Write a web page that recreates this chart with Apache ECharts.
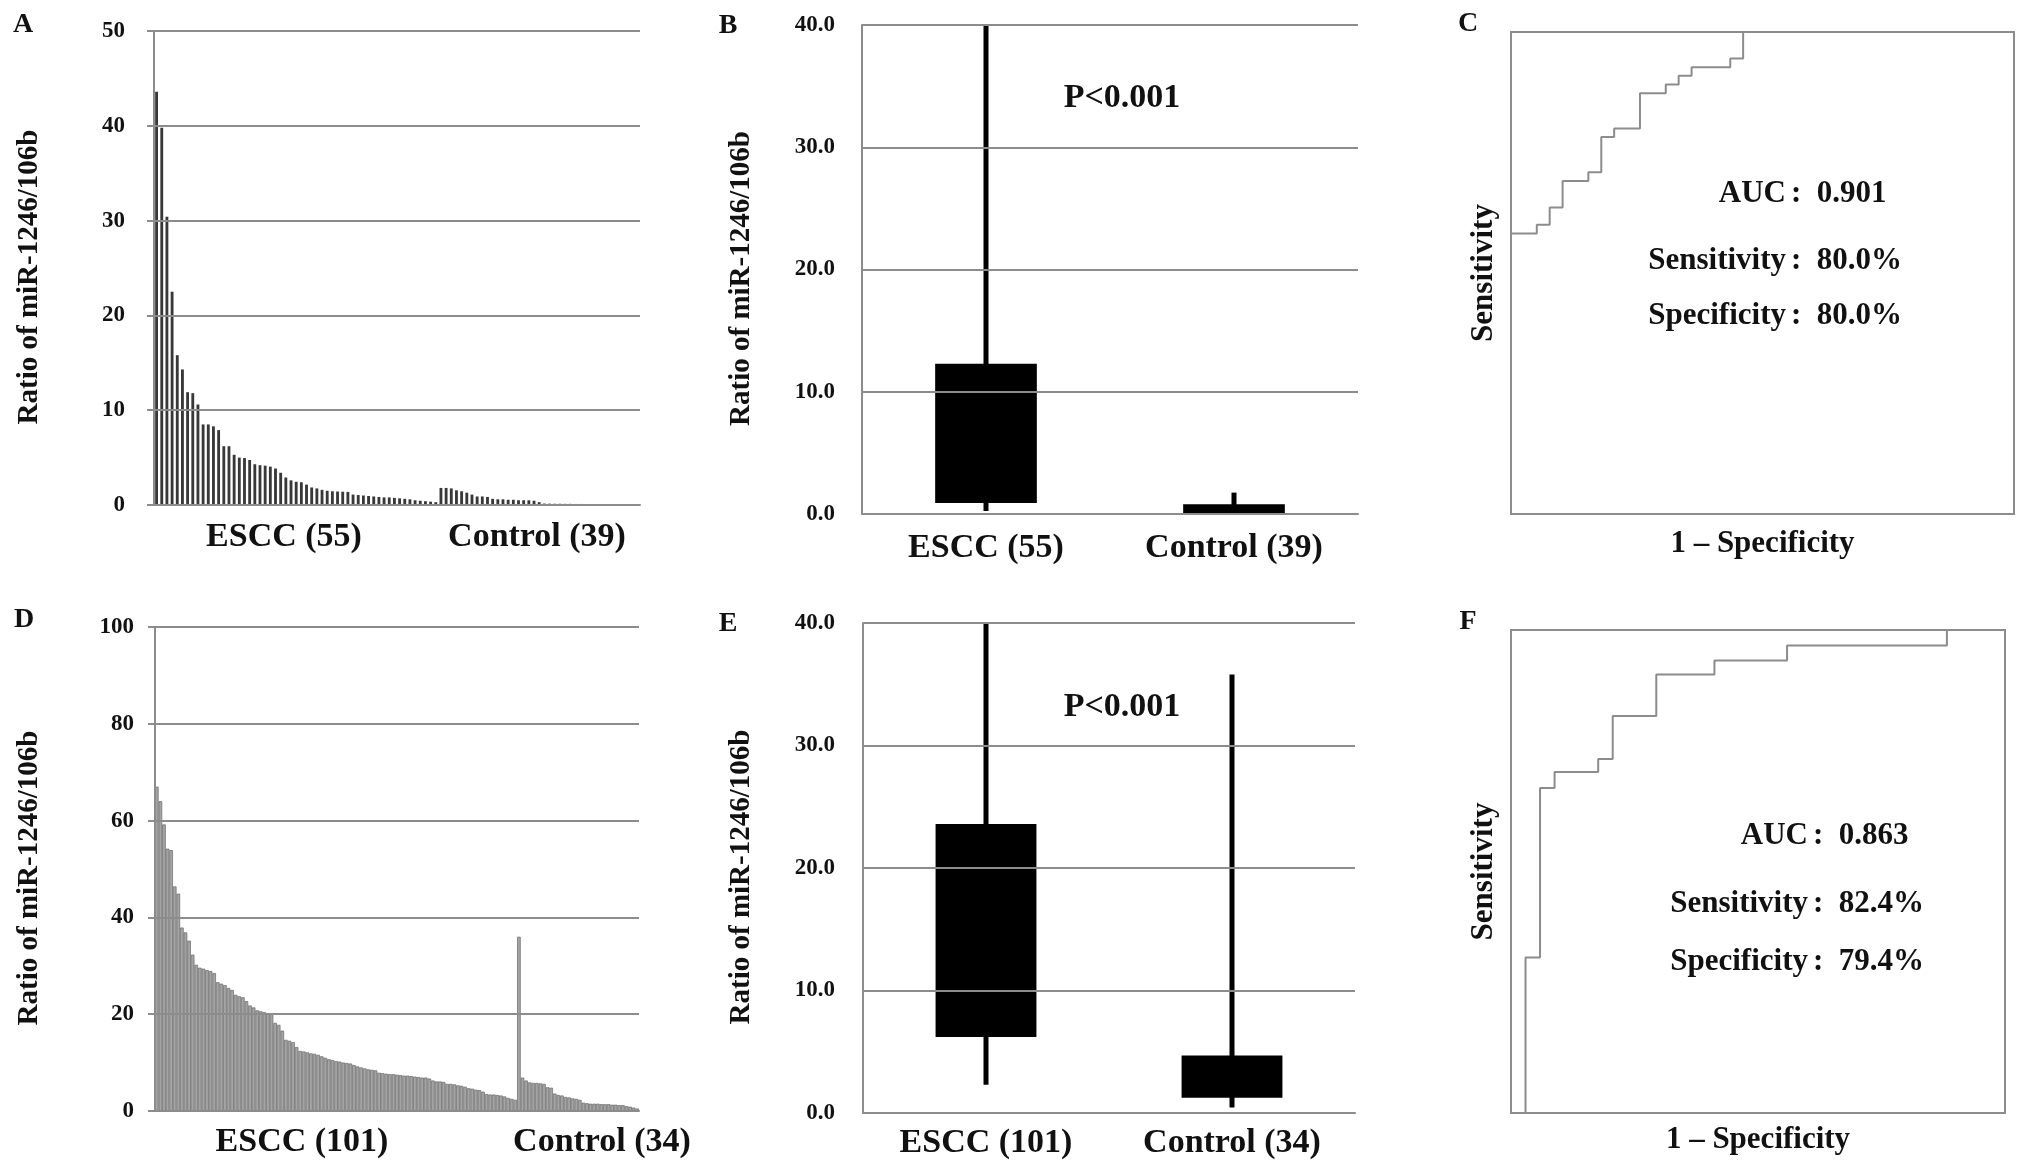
<!DOCTYPE html>
<html>
<head>
<meta charset="utf-8">
<script src="https://cdn.jsdelivr.net/npm/echarts@6.0.0/dist/echarts.min.js"></script>
<style>
  html, body { margin: 0; padding: 0; background: #fff; }
  #main { width: 2031px; height: 1172px; }
</style>
</head>
<body>
<div id="main"></div>
<script>
// ---- data ----
// panel A: individual ratios, cohort 1
const esccA = [43.6, 39.8, 30.4, 22.5, 15.8, 14.3, 11.9, 11.8, 10.6, 8.5,
  8.5, 8.3, 7.9, 6.2, 6.2, 5.3, 5.0, 4.95, 4.75, 4.3,
  4.2, 4.15, 4.05, 3.85, 3.4, 2.9, 2.6, 2.45, 2.4, 2.15,
  1.85, 1.75, 1.6, 1.5, 1.45, 1.42, 1.4, 1.38, 1.1, 1.05,
  1.0, 0.95, 0.9, 0.85, 0.8, 0.8, 0.75, 0.7, 0.65, 0.6,
  0.5, 0.45, 0.4, 0.35, 0.3];
const controlA = [1.8, 1.8, 1.75, 1.55, 1.45, 1.3, 1.1, 0.9, 0.9, 0.85,
  0.65, 0.6, 0.6, 0.55, 0.55, 0.5, 0.5, 0.5, 0.45, 0.3,
  0.15, 0.14, 0.13, 0.13, 0.12, 0.12, 0.11, 0.11, 0.1, 0.1,
  0.09, 0.09, 0.08, 0.08, 0.07, 0.07, 0.06, 0.06, 0.05];
// panel D: individual ratios, cohort 2
const esccD = [67.0, 64.0, 59.2, 54.2, 53.9, 46.4, 44.9, 37.9, 36.9, 35.2,
  32.3, 30.2, 29.6, 29.4, 29.1, 28.9, 28.5, 26.6, 26.3, 26.0,
  25.4, 25.0, 24.0, 23.7, 23.5, 22.7, 21.8, 21.4, 20.8, 20.6,
  20.4, 20.2, 20.1, 18.2, 17.8, 16.6, 14.7, 14.5, 14.2, 13.2,
  12.4, 12.3, 12.1, 11.9, 11.8, 11.6, 11.3, 11.0, 10.7, 10.5,
  10.3, 10.2, 10.0, 9.9, 9.8, 9.5, 9.2, 9.0, 8.8, 8.6,
  8.5, 8.4, 7.9, 7.8, 7.7, 7.6, 7.6, 7.5, 7.4, 7.3,
  7.3, 7.2, 7.1, 7.0, 6.9, 6.9, 6.7, 6.3, 6.1, 6.1,
  6.0, 5.6, 5.6, 5.5, 5.3, 5.2, 5.0, 4.7, 4.6, 4.4,
  4.3, 4.0, 3.5, 3.4, 3.4, 3.3, 3.2, 3.0, 2.7, 2.5,
  2.3];
const controlD = [36.0, 6.9, 6.3, 5.9, 5.8, 5.8, 5.7, 5.6, 4.9, 4.8,
  3.6, 3.3, 3.2, 2.9, 2.8, 2.6, 2.5, 2.3, 1.7, 1.6,
  1.5, 1.5, 1.5, 1.4, 1.4, 1.4, 1.3, 1.3, 1.2, 1.2,
  1.0, 0.9, 0.7, 0.5];

// panels B / E: [min, lower box, upper box, max]
const boxCatsB = ['ESCC (55)', 'Control (39)'];
const boxB = [[0.24, 0.9, 12.3, 43.6], [0.0, 0.02, 0.8, 1.75]];
const boxCatsE = ['ESCC (101)', 'Control (34)'];
const boxE = [[2.3, 6.2, 23.6, 67.0], [0.45, 1.24, 4.7, 35.8]];

// panels C / F: ROC step corners (1 - specificity, sensitivity)
const rocCFpr = [0, 0, 0.0513, 0.0769, 0.1026, 0.1538, 0.1795, 0.2051, 0.2564, 0.3077, 0.3333, 0.359, 0.4359, 0.4615, 1];
const rocCTpr = [0, 0.582, 0.6, 0.636, 0.691, 0.709, 0.782, 0.8, 0.873, 0.891, 0.909, 0.927, 0.945, 1, 1];
const rocFFpr = [0, 0.0294, 0.0588, 0.0882, 0.1765, 0.2059, 0.2941, 0.4118, 0.5588, 0.8824, 1];
const rocFTpr = [0, 0.322, 0.673, 0.706, 0.733, 0.822, 0.908, 0.937, 0.968, 1, 1];
const statsC = [['AUC', '0.901'], ['Sensitivity', '80.0%'], ['Specificity', '80.0%']];
const statsF = [['AUC', '0.863'], ['Sensitivity', '82.4%'], ['Specificity', '79.4%']];

// ---- chart ----
const FONT = 'Liberation Serif';
const GRAY = '#8c8c8c';
const yName = 'Ratio of miR-1246/106b';

const catsA = esccA.map((v, i) => 'ESCC ' + (i + 1)).concat(controlA.map((v, i) => 'Control ' + (i + 1)));
const catsD = esccD.map((v, i) => 'ESCC ' + (i + 1)).concat(controlD.map((v, i) => 'Control ' + (i + 1)));

function barXAxis(gridIndex, data) {
  return {
    type: 'category', gridIndex: gridIndex, data: data,
    axisLine: { lineStyle: { color: GRAY, width: 2 } },
    axisTick: { show: false }, axisLabel: { show: false }
  };
}
function boxXAxis(gridIndex, data, margin) {
  return {
    type: 'category', gridIndex: gridIndex, data: data,
    axisLine: { lineStyle: { color: GRAY, width: 2 } },
    axisTick: { show: false },
    axisLabel: { margin: margin, fontFamily: FONT, fontWeight: 'bold', fontSize: 34, color: '#111' }
  };
}
function ratioYAxis(gridIndex, max, interval, margin, nameGap, decimals, tick) {
  return {
    type: 'value', gridIndex: gridIndex, min: 0, max: max, interval: interval, z: 3,
    name: yName, nameLocation: 'middle', nameGap: nameGap, nameRotate: 90,
    // right padding nudges the rotated title a little downwards
    nameTextStyle: { fontFamily: FONT, fontWeight: 'bold', fontSize: 29, color: '#111', padding: [0, 18, 0, 0] },
    axisLine: { show: true, lineStyle: { color: GRAY, width: 2 } },
    axisTick: { show: tick, length: 7, lineStyle: { color: GRAY, width: 2 } },
    splitLine: { lineStyle: { color: GRAY, width: 2 } },
    axisLabel: {
      margin: margin, fontFamily: FONT, fontWeight: 'bold', fontSize: 23, color: '#111',
      formatter: v => decimals ? v.toFixed(decimals) : String(v)
    }
  };
}
function rocAxis(gridIndex, name, nameGap, isY) {
  return {
    type: 'value', gridIndex: gridIndex, min: 0, max: 1,
    name: name, nameLocation: 'middle', nameGap: nameGap, nameRotate: isY ? 90 : 0,
    nameTextStyle: { fontFamily: FONT, fontWeight: 'bold', fontSize: 31, color: '#111' },
    axisLine: { show: false }, axisTick: { show: false },
    axisLabel: { show: false }, splitLine: { show: false }
  };
}

function renderBox(params, api) {
  const x = api.value(0);
  const low = api.coord([x, api.value(1)]);
  const q1 = api.coord([x, api.value(2)]);
  const q3 = api.coord([x, api.value(3)]);
  const high = api.coord([x, api.value(4)]);
  const w = api.size([1, 0])[0] * 0.41;
  return {
    type: 'group',
    children: [
      { type: 'line', shape: { x1: low[0], y1: low[1], x2: high[0], y2: high[1] },
        style: { stroke: '#000', lineWidth: 5 } },
      { type: 'rect', shape: { x: q3[0] - w / 2, y: q3[1], width: w, height: q1[1] - q3[1] },
        style: { fill: '#000' } }
    ]
  };
}

function txt(x, y, text, size, align) {
  return {
    type: 'text', x: x, y: y, z: 10,
    style: {
      text: text, fill: '#111', font: 'bold ' + size + 'px "' + FONT + '"',
      textAlign: align || 'center', textVerticalAlign: 'middle'
    }
  };
}
function statTexts(stats, colonX, ys) {
  const out = [];
  stats.forEach((s, i) => {
    out.push(txt(colonX - 5, ys[i], s[0], 31, 'right'));
    out.push(txt(colonX, ys[i], ':  ' + s[1], 31, 'left'));
  });
  return out;
}

const chart = echarts.init(document.getElementById('main'));
chart.setOption({
  backgroundColor: '#fff',
  animation: false,
  grid: [
    { left: 154, top: 31, width: 486, height: 474 },
    { left: 862, top: 25, width: 496, height: 489 },
    { left: 1511, top: 32, width: 503, height: 482, show: true, borderColor: GRAY, borderWidth: 2 },
    { left: 155, top: 627, width: 484, height: 484 },
    { left: 863, top: 623, width: 492, height: 490 },
    { left: 1511, top: 630, width: 494, height: 483, show: true, borderColor: GRAY, borderWidth: 2 }
  ],
  xAxis: [
    barXAxis(0, catsA),
    boxXAxis(1, boxCatsB, 17),
    rocAxis(2, '1 – Specificity', 14, false),
    barXAxis(3, catsD),
    boxXAxis(4, boxCatsE, 13),
    rocAxis(5, '1 – Specificity', 11, false)
  ],
  yAxis: [
    ratioYAxis(0, 50, 10, 29, 110, 0, true),
    ratioYAxis(1, 40, 10, 27, 106, 1, false),
    rocAxis(2, 'Sensitivity', 12, true),
    ratioYAxis(3, 100, 20, 21, 111, 0, true),
    ratioYAxis(4, 40, 10, 28, 107, 1, false),
    rocAxis(5, 'Sensitivity', 12, true)
  ],
  series: [
    { type: 'bar', xAxisIndex: 0, yAxisIndex: 0, data: esccA.concat(controlA),
      barCategoryGap: '45%', itemStyle: { color: '#383838' } },
    { type: 'custom', xAxisIndex: 1, yAxisIndex: 1, clip: true, renderItem: renderBox,
      data: boxB.map((b, i) => [i].concat(b)) },
    { type: 'line', xAxisIndex: 2, yAxisIndex: 2, step: 'end', symbol: 'none',
      lineStyle: { color: GRAY, width: 2 }, data: rocCFpr.map((x, i) => [x, rocCTpr[i]]) },
    { type: 'bar', xAxisIndex: 3, yAxisIndex: 3, data: esccD.concat(controlD),
      barCategoryGap: '0%', itemStyle: { color: '#a4a4a4', borderColor: '#6a6a6a', borderWidth: 0.7 } },
    { type: 'custom', xAxisIndex: 4, yAxisIndex: 4, clip: true, renderItem: renderBox,
      data: boxE.map((b, i) => [i].concat(b)) },
    { type: 'line', xAxisIndex: 5, yAxisIndex: 5, step: 'end', symbol: 'none',
      lineStyle: { color: GRAY, width: 2 }, data: rocFFpr.map((x, i) => [x, rocFTpr[i]]) }
  ],
  graphic: [
    txt(23, 25, 'A', 28), txt(728, 26, 'B', 28), txt(1468, 24, 'C', 28),
    txt(24, 620, 'D', 28), txt(728, 624, 'E', 28), txt(1468, 622, 'F', 28),
    txt(284, 537, 'ESCC (55)', 34), txt(537, 537, 'Control (39)', 34),
    txt(302, 1142, 'ESCC (101)', 34), txt(602, 1142, 'Control (34)', 34),
    txt(1122, 98, 'P<0.001', 34), txt(1122, 707, 'P<0.001', 34)
  ].concat(statTexts(statsC, 1791, [194, 261, 316]))
   .concat(statTexts(statsF, 1813, [836, 904, 962]))
});
</script>
</body>
</html>
